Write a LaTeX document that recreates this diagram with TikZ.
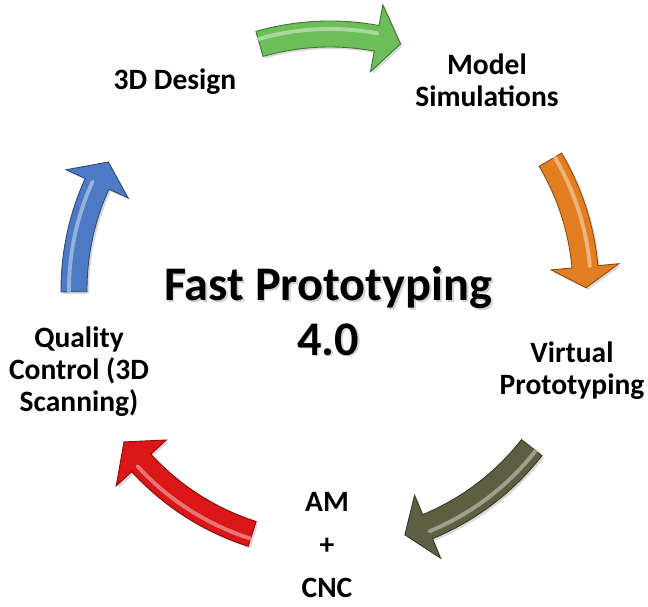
\documentclass[tikz,border=0pt]{standalone}
\usepackage{fontspec}
\setmainfont{Carlito}
\usetikzlibrary{positioning,shadows}

\definecolor{stepgreen}{RGB}{108,190,88}
\definecolor{steporange}{RGB}{226,126,32}
\definecolor{stepolive}{RGB}{94,94,66}
\definecolor{stepred}{RGB}{218,22,22}
\definecolor{stepblue}{RGB}{76,122,196}

% curved block arrow round the hub: colour, tail angle, head angle, tip angle
\newcommand{\bentarrow}[4]{%
  \path[arrowbody=#1] (#2:269) arc[start angle=#2, end angle=#3, radius=269]
    -- (#3:290) -- (#4:256) -- (#3:222) -- (#3:243)
    arc[start angle=#3, end angle=#2, radius=243] -- cycle;
  \draw[arrowshine=#1] (#2:261) arc[start angle=#2, end angle=#3, radius=261];
}

\begin{document}
\begin{tikzpicture}[
        x=0.02cm, y=0.02cm,
        steplabel/.style={font=\bfseries\fontsize{16.8}{18.3}\selectfont, align=center, inner sep=0pt},
        hubtitle/.style={font=\bfseries\fontsize{27.5}{31}\selectfont, align=center, inner sep=0pt},
        arrowbody/.style={fill=#1, draw=#1!60!black, line width=0.5pt,
            drop shadow={shadow xshift=1.2pt, shadow yshift=-1.2pt, opacity=0.3}},
        arrowshine/.style={draw=#1!45!white, line width=2.2pt, line cap=round, opacity=0.75}
    ]
  \useasboundingbox (0,0) rectangle (648,607);

  % Nodes
  \coordinate (hub) at (330,317);
  \node (shadow) [hubtitle, text=gray!35] at (329.8,294.2) {Fast Prototyping\\4.0};
  \node (title) [hubtitle] at (328,296) {Fast Prototyping\\4.0};
  \node (design) [steplabel] at (175,525) {3D Design};
  \node (simul) [steplabel] at (487,527) {Model\\Simulations};
  \node (virtual) [steplabel] at (572,236) {Virtual\\Prototyping};
  \node (amcnc) [steplabel, font=\bfseries\fontsize{16.8}{24.5}\selectfont] at (327,62) {AM\\+\\CNC};
  \node (quality) [steplabel] at (79,235) {Quality\\Control (3D\\Scanning)};

  % Arrows
  \begin{scope}[shift={(hub)}]
    \bentarrow{stepgreen}{106}{79.5}{74}
    \bentarrow{steporange}{30.6}{5.2}{0.5}
    \bentarrow{stepolive}{-38}{-67.6}{-73}
    \bentarrow{stepred}{-107.7}{-137.5}{-143.6}
    \bentarrow{stepblue}{-179.6}{-204.5}{-210}
  \end{scope}
\end{tikzpicture}
\end{document}
